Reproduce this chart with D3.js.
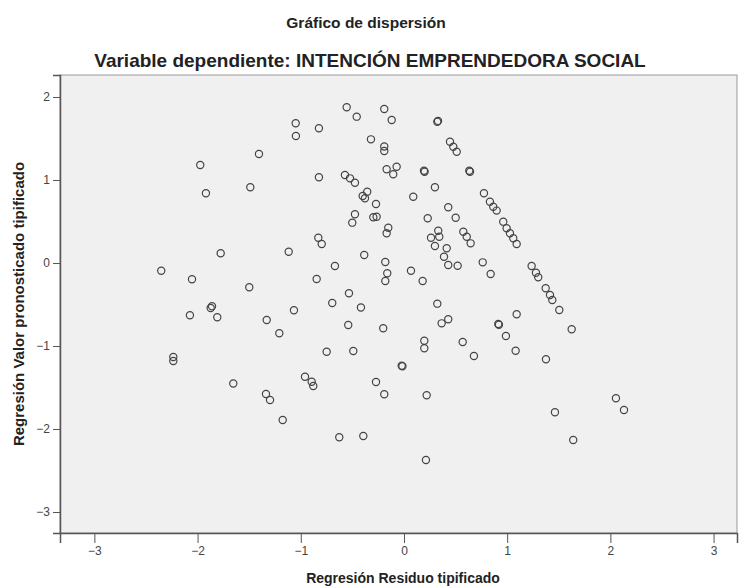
<!DOCTYPE html>
<html>
<head>
<meta charset="utf-8">
<script src="https://cdn.jsdelivr.net/npm/d3@7"></script>
<style>
  body { margin: 0; background: #fff; }
  svg text { font-family: "Liberation Sans", Arial, sans-serif; }
</style>
</head>
<body>
<div id="scatter"></div>
<script>
// ==== DATA ====
var chartTitle = "Gráfico de dispersión";
var chartSubtitle = "Variable dependiente: INTENCIÓN EMPRENDEDORA SOCIAL";
var xLabel = "Regresión Residuo tipificado";
var yLabel = "Regresión Valor pronosticado tipificado";

var xTicks = [-3, -2, -1, 0, 1, 2, 3];
var yTicks = [-3, -2, -1, 0, 1, 2];

// standardized residual (x)
var residuo = [
  -1.405, -1.974, -1.919, -1.489, -1.776, -1.117, -2.352, -2.054, -1.499, -1.873,
  -1.860, -2.074, -1.809, -1.330, -1.208, -2.235, -2.235, -1.654, -1.337, -1.298,
  -1.175,
  -0.555, -0.458, -0.191, -0.119, 0.323, 0.330, -1.049, -1.047, -0.824, -0.320,
  -0.191, -0.191, 0.446, 0.478, 0.511, -0.168, -0.071, -0.104, 0.194, 0.200,
  0.633, 0.640, -0.824, -0.572, -0.523, -0.475, 0.300, -0.356, -0.400, -0.378,
  0.090, -0.271, 0.775, 0.833, 0.865, 0.898, 0.429, 0.501, 0.230, -0.475,
  -0.501, -0.297, -0.265, -0.152, -0.168, 0.332, 0.342, 0.262, 0.300, 0.575,
  0.608, 0.646, -0.830, -0.797, -0.385, 0.414, 0.388, 0.429, 0.520, -0.181,
  -0.669, -0.162, -0.181, 0.068, 0.181, 0.763, 0.840, -0.846, -0.533, -0.695,
  -0.417, -1.066, 0.323,
  -0.540, -0.201, 0.365, 0.429, 0.914, 0.920, 0.988, -0.749, -0.491, 0.197,
  0.197, 0.569, 0.678, -0.022, -0.015, -0.959, -0.894, -0.879, -0.271, -0.191,
  0.220, -0.627, -0.394, 0.213,
  0.962, 0.995, 1.027, 1.059, 1.092, 1.237, 1.279, 1.301, 1.373, 1.415,
  1.437, 1.505, 1.092,
  1.625, 1.082, 1.376, 2.054, 2.132, 1.463, 1.640
];

// standardized predicted value (y)
var pronosticado = [
  1.313, 1.181, 0.840, 0.912, 0.117, 0.136, -0.093, -0.196, -0.293, -0.542,
  -0.520, -0.630, -0.654, -0.687, -0.846, -1.133, -1.181, -1.451, -1.578, -1.651,
  -1.892,
  1.876, 1.763, 1.855, 1.723, 1.702, 1.712, 1.683, 1.530, 1.623, 1.490,
  1.404, 1.349, 1.461, 1.401, 1.341, 1.129, 1.160, 1.069, 1.112, 1.100,
  1.112, 1.100, 1.033, 1.060, 1.020, 0.967, 0.912, 0.859, 0.807, 0.780,
  0.799, 0.711, 0.840, 0.739, 0.678, 0.631, 0.671, 0.546, 0.539, 0.587,
  0.486, 0.551, 0.558, 0.425, 0.358, 0.389, 0.317, 0.305, 0.205, 0.377,
  0.317, 0.237, 0.305, 0.229, 0.096, 0.177, 0.076, -0.024, -0.033, 0.012,
  -0.036, -0.124, -0.217, -0.093, -0.217, 0.008, -0.133, -0.193, -0.365, -0.482,
  -0.536, -0.570, -0.490,
  -0.747, -0.787, -0.727, -0.678, -0.735, -0.745, -0.880, -1.069, -1.060, -0.936,
  -1.028, -0.952, -1.120, -1.237, -1.245, -1.370, -1.430, -1.482, -1.434, -1.582,
  -1.594, -2.100, -2.084, -2.373,
  0.498, 0.418, 0.358, 0.298, 0.229, -0.036, -0.117, -0.172, -0.305, -0.386,
  -0.446, -0.566, -0.618,
  -0.799, -1.057, -1.160, -1.630, -1.771, -1.799, -2.133
];

// ==== SVG ====
var svgWidth = 740;
var svgHeight = 588;

var plot = { left: 60, right: 737, top: 75, bottom: 533 };

var svg = d3.select("#scatter")
  .append("svg")
  .attr("width", svgWidth)
  .attr("height", svgHeight);

// ==== SCALES ====
var xScale = d3.scaleLinear()
  .domain([-3.333, 3.227])
  .range([plot.left, plot.right]);

var yScale = d3.scaleLinear()
  .domain([-3.253, 2.265])
  .range([plot.bottom, plot.top]);

// plot background
svg.append("rect")
  .attr("x", plot.left)
  .attr("y", plot.top)
  .attr("width", plot.right - plot.left)
  .attr("height", plot.bottom - plot.top)
  .attr("fill", "#f0f0f0")
  .attr("stroke", "#9a9a9a")
  .attr("stroke-width", 1);

// ==== AXES ====
var xAxis = d3.axisBottom(xScale)
  .tickValues(xTicks)
  .tickSize(10)
  .tickPadding(3)
  .tickFormat(d3.format("d"));

var yAxis = d3.axisLeft(yScale)
  .tickValues(yTicks)
  .tickSize(7)
  .tickPadding(3)
  .tickFormat(d3.format("d"));

var gx = svg.append("g")
  .attr("transform", `translate(0, ${plot.bottom})`)
  .call(xAxis);

var gy = svg.append("g")
  .attr("transform", `translate(${plot.left}, 0)`)
  .call(yAxis);

[gx, gy].forEach(function(g) {
  g.select(".domain").attr("stroke", "#555").attr("stroke-width", 1.5);
  g.selectAll(".tick line").attr("stroke", "#555");
  g.selectAll(".tick text")
    .attr("fill", "#444")
    .style("font-size", "12px");
});

// ==== POINTS ====
var points = residuo.map(function(r, i) { return { x: r, y: pronosticado[i] }; });

svg.append("g")
  .selectAll("circle")
  .data(points)
  .enter()
  .append("circle")
  .attr("cx", d => xScale(d.x))
  .attr("cy", d => yScale(d.y))
  .attr("r", 3.6)
  .attr("fill", "none")
  .attr("stroke", "#444")
  .attr("stroke-width", 1.2);

// ==== TITLES ====
svg.append("text")
  .attr("x", 366)
  .attr("y", 28)
  .attr("text-anchor", "middle")
  .attr("font-weight", "bold")
  .attr("fill", "#222")
  .style("font-size", "15.5px")
  .text(chartTitle);

svg.append("text")
  .attr("x", 370)
  .attr("y", 67)
  .attr("text-anchor", "middle")
  .attr("font-weight", "bold")
  .attr("fill", "#222")
  .style("font-size", "19px")
  .text(chartSubtitle);

svg.append("text")
  .attr("x", 403)
  .attr("y", 583)
  .attr("text-anchor", "middle")
  .attr("font-weight", "bold")
  .attr("fill", "#222")
  .style("font-size", "14px")
  .text(xLabel);

svg.append("text")
  .attr("transform", `translate(24, ${(plot.top + plot.bottom) / 2}) rotate(-90)`)
  .attr("text-anchor", "middle")
  .attr("font-weight", "bold")
  .attr("fill", "#222")
  .style("font-size", "15px")
  .text(yLabel);
</script>
</body>
</html>
